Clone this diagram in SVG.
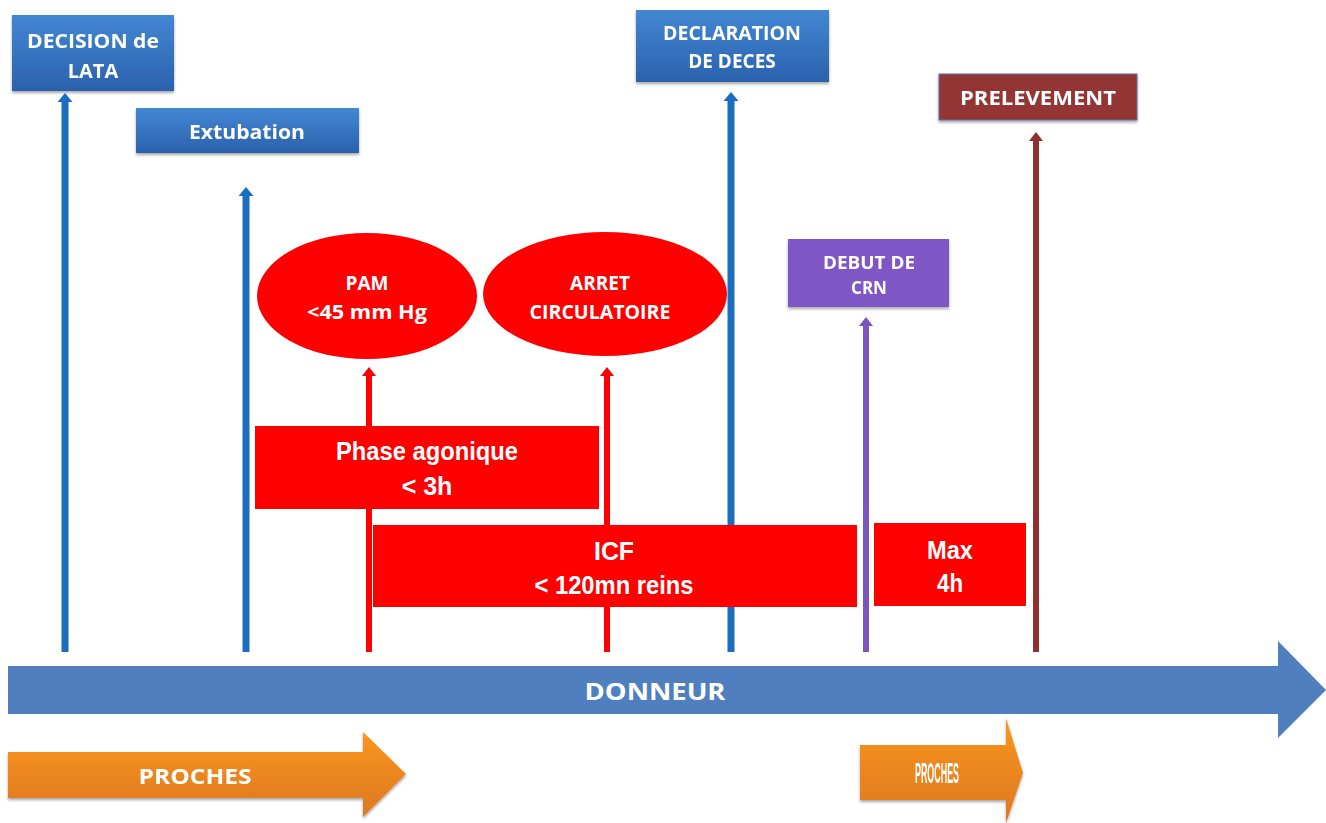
<svg xmlns="http://www.w3.org/2000/svg" width="1326" height="823" viewBox="0 0 1326 823">
<defs>
<linearGradient id="gBlue" x1="0" y1="0" x2="0" y2="1"><stop offset="0" stop-color="#4387d3"/><stop offset="1" stop-color="#2b61ad"/></linearGradient>
<linearGradient id="gOrange" x1="0" y1="0" x2="0" y2="1"><stop offset="0" stop-color="#f9961f"/><stop offset="1" stop-color="#dd7720"/></linearGradient>
<filter id="sh" x="-10%" y="-10%" width="120%" height="130%"><feDropShadow dx="0" dy="2" stdDeviation="1.5" flood-color="#000" flood-opacity="0.35"/></filter>
<style>
.t{font-family:"Open Sans","Liberation Sans",sans-serif;font-weight:bold;fill:#fff;text-anchor:middle}
.n{font-family:"Liberation Sans",Arial,sans-serif;font-weight:bold;fill:#fff;text-anchor:middle}
.blue{fill:url(#gBlue)}
.red{fill:#ff0000}
.ab{fill:#1a6dbf}
.ar{fill:#ff0000}
.ap{fill:#7b55c0}
.an{fill:#8f2f2f}
</style>
</defs>
<rect width="1326" height="823" fill="#fff"/>

<g id="connectors">
<path class="ab" d="M61.5,652 L61.5,102 L57.5,102 L65,93 L72.5,102 L68.5,102 L68.5,652 Z"/>
<path class="ab" d="M242.5,652 L242.5,196 L238.5,196 L246,187 L253.5,196 L249.5,196 L249.5,652 Z"/>
<path class="ab" d="M727.5,652 L727.5,101 L723.5,101 L731,92 L738.5,101 L734.5,101 L734.5,652 Z"/>
<path class="ar" d="M366,652 L366,376 L362,376 L369,367 L376,376 L372,376 L372,652 Z"/>
<path class="ar" d="M604,652 L604,376 L600,376 L607,367 L614,376 L610,376 L610,652 Z"/>
<path class="ap" d="M863,652 L863,326 L859,326 L866,317 L873,326 L869,326 L869,652 Z"/>
<path class="an" d="M1033,652 L1033,141 L1029,141 L1036,132 L1043,141 L1039,141 L1039,652 Z"/>
</g>

<g id="decision-lata" filter="url(#sh)">
<rect class="blue" x="12" y="15" width="162" height="76"/>
<text class="t" x="93" y="48" font-size="20" textLength="132" lengthAdjust="spacingAndGlyphs">DECISION de</text>
<text class="t" x="93" y="78" font-size="20">LATA</text>
</g>
<g id="extubation" filter="url(#sh)">
<rect class="blue" x="136" y="108" width="223" height="45"/>
<text class="t" x="247" y="139" font-size="20" textLength="116" lengthAdjust="spacingAndGlyphs">Extubation</text>
</g>
<g id="declaration-deces" filter="url(#sh)">
<rect class="blue" x="636" y="10" width="193" height="72"/>
<text class="t" x="732" y="40" font-size="19" textLength="138" lengthAdjust="spacingAndGlyphs">DECLARATION</text>
<text class="t" x="732" y="68" font-size="19">DE DECES</text>
</g>
<g id="prelevement" filter="url(#sh)">
<rect x="939" y="74" width="198" height="46" fill="#943634" stroke="#5b6fa8" stroke-width="1"/>
<text class="t" x="1038" y="105" font-size="20" textLength="156" lengthAdjust="spacingAndGlyphs">PRELEVEMENT</text>
</g>
<g id="debut-crn" filter="url(#sh)">
<rect x="788" y="239" width="161" height="68" fill="#7e57c5"/>
<text class="t" x="869" y="269" font-size="17" textLength="92" lengthAdjust="spacingAndGlyphs">DEBUT DE</text>
<text class="t" x="869" y="294" font-size="17">CRN</text>
</g>
<g id="pam">
<ellipse class="red" cx="367" cy="296" rx="110" ry="63"/>
<text class="t" x="367" y="290" font-size="19">PAM</text>
<text class="t" x="367" y="319" font-size="19" textLength="120" lengthAdjust="spacingAndGlyphs">&lt;45 mm Hg</text>
</g>
<g id="arret-circulatoire">
<ellipse class="red" cx="605" cy="294" rx="122" ry="62"/>
<text class="t" x="600" y="290" font-size="19">ARRET</text>
<text class="t" x="600" y="319" font-size="19" textLength="141" lengthAdjust="spacingAndGlyphs">CIRCULATOIRE</text>
</g>
<g id="phase-agonique">
<rect class="red" x="255" y="426" width="344" height="83"/>
<text class="n" x="427" y="460" font-size="25" textLength="182" lengthAdjust="spacingAndGlyphs">Phase agonique</text>
<text class="n" x="427" y="495" font-size="25">&lt; 3h</text>
</g>
<g id="icf">
<rect class="red" x="373" y="525" width="484" height="82"/>
<text class="n" x="614" y="560" font-size="25" textLength="40" lengthAdjust="spacingAndGlyphs">ICF</text>
<text class="n" x="614" y="594" font-size="25" textLength="159" lengthAdjust="spacingAndGlyphs">&lt; 120mn reins</text>
</g>
<g id="max-4h">
<rect class="red" x="874" y="523" width="152" height="83"/>
<text class="n" x="950" y="559" font-size="25" textLength="46" lengthAdjust="spacingAndGlyphs">Max</text>
<text class="n" x="950" y="592" font-size="25" textLength="26" lengthAdjust="spacingAndGlyphs">4h</text>
</g>
<g id="donneur">
<path d="M8,666 L1278,666 L1278,641 L1326,690 L1278,738 L1278,714 L8,714 Z" fill="#4f7fbe"/>
<text class="t" x="655" y="700" font-size="24" textLength="141" lengthAdjust="spacingAndGlyphs">DONNEUR</text>
</g>
<g id="proches-1" filter="url(#sh)">
<path d="M8,752 L363,752 L363,732 L406,774 L363,817 L363,798 L8,798 Z" fill="url(#gOrange)"/>
<text class="t" x="195" y="784" font-size="22" textLength="113" lengthAdjust="spacingAndGlyphs">PROCHES</text>
</g>
<g id="proches-2" filter="url(#sh)">
<path d="M860,745 L1006,745 L1006,718 L1023,773 L1006,823 L1006,800 L860,800 Z" fill="url(#gOrange)"/>
<text class="n" x="937" y="783" font-size="30" textLength="44" lengthAdjust="spacingAndGlyphs">PROCHES</text>
</g>
</svg>
